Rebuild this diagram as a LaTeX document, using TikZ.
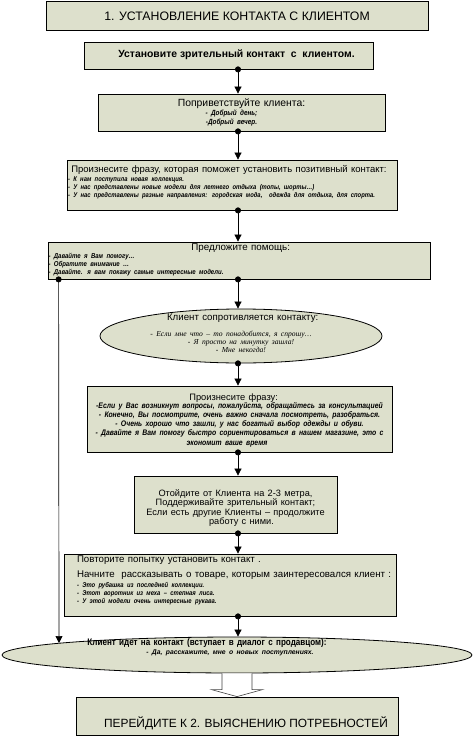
\documentclass[tikz,border=0pt]{standalone}
\usepackage{fontspec}
\setmainfont{Liberation Sans}
\newfontfamily\replyfont{Liberation Serif}
\newfontfamily\narrowsans[FakeStretch=0.85]{Liberation Sans}
\usetikzlibrary{arrows.meta, positioning, shapes.geometric}
\definecolor{boxfill}{RGB}{221,224,204}
\newcommand{\headsize}[1]{\fontsize{#1}{10}\selectfont}
\newcommand{\notesize}[2]{\narrowsans\bfseries\itshape\fontsize{#1}{#2}\selectfont}
\tikzset{
        x=1pt, y=-1pt, % one unit is one pixel of the sheet, y runs down
        link/.style={{Circle[length=6pt]}-{Triangle[width=7pt,length=7pt]}, shorten <=-3pt, line width=0.7pt}, % dot on the box, head on the next one
    }
\tikzstyle{stepbox}=[draw, fill=boxfill, line width=0.8pt, rectangle, inner xsep=1pt, inner ysep=0pt]
\tikzstyle{talk}=[draw, fill=boxfill, line width=0.8pt, ellipse, inner sep=0pt, align=center]

\begin{document}
\begin{tikzpicture}
    \useasboundingbox (0,0) rectangle (474,736);
    \coordinate (sp) at (238,0); % all the main connectors run on this line

    \node[stepbox, minimum width=382pt, minimum height=29pt, text height=9pt, text depth=0pt] (t1) at (237,15.5)
        {\fontsize{12.3}{13}\selectfont 1. УСТАНОВЛЕНИЕ КОНТАКТА С КЛИЕНТОМ};
    \node[stepbox, minimum width=289pt, minimum height=27pt, text height=8pt, text depth=4pt] (b2) at (228.5,55.5)
        {\hspace*{16pt}\bfseries\fontsize{10.4}{12}\selectfont Установите зрительный контакт~~с~~клиентом.};
    \node[stepbox, minimum width=287pt, minimum height=37pt, text width=283pt, align=center, text height=7pt, text depth=20pt] (b3) at (241.5,112.5)
        {{\headsize{10.4}\baselineskip=9pt Поприветствуйте клиента:\par}
         {\notesize{7.5}{9} \hspace*{-20pt}- Добрый день;\par \hspace*{-20pt}-Добрый вечер.\par}};
    \node[stepbox, minimum width=330pt, minimum height=50pt, text width=336pt, inner xsep=-3pt, align=left, text height=8pt, text depth=34pt] (b4) at (232,185)
        {\leftskip=4pt
         {\headsize{9.5} Произнесите фразу, которая поможет установить позитивный контакт:\par}
         \vspace{1pt}
         {\notesize{6.9}{8} - К нам поступила новая коллекция.\par
          - У нас представлены новые модели для летнего отдыха (топы, шорты…)\par
          - У нас представлены разные направления: городская мода,~ одежда для отдыха, для спорта.\par}};
    \node[stepbox, minimum width=382pt, minimum height=37pt, text width=381pt, inner xsep=0.5pt, align=left, text height=8pt, text depth=29pt] (b5) at (239,260.5)
        {{\centering\headsize{9.8} Предложите помощь:\par}
         {\notesize{7.1}{8.3} - Давайте я Вам помогу…\par
          - Обратите внимание …\par
          - Давайте. я вам покажу самые интересные модели.\par}};
    \node[talk, minimum width=282pt, minimum height=54pt, text width=190pt, text height=-6pt, text depth=31pt] (e1) at (241,336)
        {{\headsize{9.7} Клиент сопротивляется контакту:\par}
         \vspace{8pt}
         {\replyfont\itshape\fontsize{7.6}{8}\selectfont \hspace*{-20pt}- Если мне что – то понадобится, я спрошу…\par
          - Я просто на минутку зашла!\par
          - Мне некогда!\par}};
    \node[stepbox, minimum width=305pt, minimum height=66pt, text width=303pt, align=center, text height=8pt, text depth=46pt] (b7) at (239.5,419)
        {{\headsize{9.3} \hspace*{-15pt}Произнесите фразу:\par}
         \vspace{-1.3pt}
         {\notesize{8.05}{9.3} -Если у Вас возникнут вопросы, пожалуйста, обращайтесь за консультацией\par
          - Конечно, Вы посмотрите, очень важно сначала посмотреть, разобраться.\par
          - Очень хорошо что зашли, у нас богатый выбор одежды и обуви.\par
          - Давайте я Вам помогу быстро сориентироваться в нашем магазине, это с\par
          \hspace*{-25pt}экономит ваше время\par}};
    \node[stepbox, minimum width=203pt, minimum height=57pt, text width=215pt, inner xsep=-6pt, align=center, text height=8pt, text depth=25pt] (b8) at (235.5,504.5)
        {\fontsize{9.2}{9.5}\selectfont Отойдите от Клиента на 2-3 метра,\par
         Поддерживайте зрительный контакт;\par
         Если есть другие Клиенты – продолжите\par
         \hspace*{12pt}работу с ними.\par};
    \node[stepbox, minimum width=332pt, minimum height=62pt, text width=350pt, inner xsep=-9pt, align=left, text height=8pt, text depth=54pt] (b9) at (230,585)
        {\leftskip=22pt
         {\fontsize{9.7}{15}\selectfont Повторите попытку установить контакт .\par
          Начните~ рассказывать о товаре, которым заинтересовался клиент :\par}
         \vspace{2pt}
         {\notesize{6.9}{8} - Это рубашка из последней коллекции.\par
          - Этот воротник из меха – степная лиса.\par
          - У этой модели очень интересные рукава.\par}};
    \node[talk, minimum width=470pt, minimum height=36pt, text width=300pt, text height=-2pt, text depth=20pt] (e2) at (237,655)
        {{\narrowsans\bfseries\fontsize{9.5}{10}\selectfont \hspace*{-60pt}Клиент идет на контакт (вступает в диалог с продавцом):\par}
         {\bfseries\itshape\fontsize{6.8}{9}\selectfont \hspace*{-14pt}- Да, расскажите, мне о новых поступлениях.\par}};
    \node[stepbox, minimum width=322pt, minimum height=38pt, text height=22pt, text depth=0pt] (b11) at (237,716)
        {\hspace*{18pt}\fontsize{11.9}{13}\selectfont ПЕРЕЙДИТЕ К 2. ВЫЯСНЕНИЮ ПОТРЕБНОСТЕЙ};

    % connectors down the main line
    \draw[link] (b2.south -| sp) -- (b3.north -| sp);
    \draw[link] (b3.south -| sp) -- (b4.north -| sp);
    \draw[link] (b4.south -| sp) -- (b5.north -| sp);
    \draw[link] (b5.south -| sp) -- (e1.north -| sp);
    \draw[link] (e1.south -| sp) -- (b7.north -| sp);
    \draw[link] (b7.south -| sp) -- (b8.north -| sp);
    \draw[link] (b8.south -| sp) -- (b9.north -| sp);
    \draw[link] (b9.south -| sp) -- (e2.north -| sp);
    % the short way on the left
    \coordinate (l1) at ([xshift=11pt]b5.south west);
    \coordinate (l2) at (59,643);
    \draw[link] (l1) -- (l2);
    % wide arrow to the next stage
    \filldraw[fill=white, draw=black!75, line width=0.6pt]
        ([xshift=-15pt]e2.south) -- ([shift={(-15pt,7pt)}]b11.north) -- ([shift={(-25.5pt,7pt)}]b11.north)
        -- (b11.north) -- ([shift={(25.5pt,7pt)}]b11.north) -- ([shift={(15pt,7pt)}]b11.north) -- ([xshift=15pt]e2.south);
\end{tikzpicture}
\end{document}
